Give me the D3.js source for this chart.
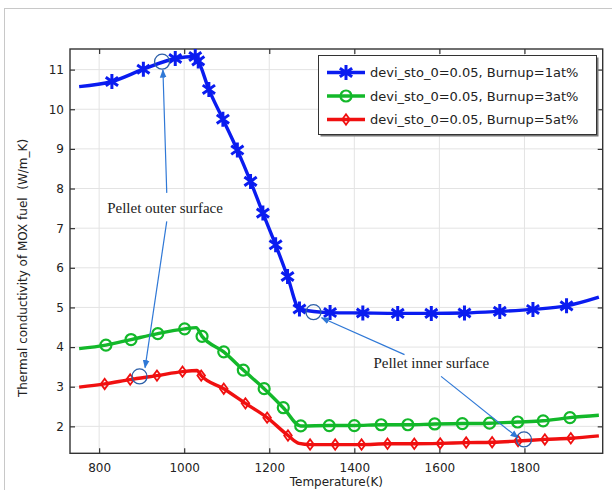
<!DOCTYPE html>
<html>
<head>
<meta charset="utf-8">
<script src="https://cdn.jsdelivr.net/npm/d3@7"></script>
<style>
  body { margin: 0; background: #fff; }
  .tick text { font-family: "DejaVu Sans", sans-serif; font-size: 12px; fill: #222; }
  .annot { font-family: "Liberation Serif", "Times New Roman", serif; font-size: 15px; fill: #222; }
</style>
</head>
<body>
<div id="chart"></div>
<script>
// Data: [temperature K, conductivity W/m_K, marker?]
const burnup1 = [
  [753, 10.57, 0], [830, 10.70, 1], [904, 11.01, 1], [979, 11.28, 1], [1026, 11.33, 1],
  [1033, 11.22, 1], [1058, 10.50, 1], [1091, 9.75, 1], [1125, 8.97, 1], [1156, 8.18, 1],
  [1185, 7.38, 1], [1215, 6.58, 1], [1243, 5.78, 1], [1271, 4.96, 1], [1343, 4.87, 1],
  [1420, 4.86, 1], [1502, 4.85, 1], [1581, 4.85, 1], [1659, 4.86, 1], [1742, 4.90, 1],
  [1820, 4.95, 1], [1899, 5.04, 1], [1975, 5.26, 0]
];
const burnup3 = [
  [753, 3.96, 0], [816, 4.05, 1], [875, 4.19, 1], [938, 4.34, 1], [1001, 4.46, 1],
  [1028, 4.49, 0], [1042, 4.27, 1], [1093, 3.88, 1], [1139, 3.42, 1], [1188, 2.95, 1],
  [1233, 2.47, 1], [1274, 2.01, 1], [1341, 2.02, 1], [1400, 2.02, 1], [1463, 2.04, 1],
  [1526, 2.04, 1], [1589, 2.06, 1], [1654, 2.07, 1], [1718, 2.08, 1], [1784, 2.11, 1],
  [1844, 2.14, 1], [1907, 2.22, 1], [1975, 2.28, 0]
];
const burnup5 = [
  [753, 2.99, 0], [813, 3.07, 1], [873, 3.18, 1], [936, 3.28, 1], [996, 3.38, 1],
  [1030, 3.41, 0], [1040, 3.28, 1], [1093, 2.95, 1], [1144, 2.58, 1], [1195, 2.22, 1],
  [1244, 1.77, 1], [1270, 1.57, 0], [1296, 1.54, 1], [1355, 1.54, 1], [1417, 1.54, 1],
  [1478, 1.56, 1], [1541, 1.56, 1], [1602, 1.57, 1], [1663, 1.59, 1], [1724, 1.60, 1],
  [1785, 1.63, 1], [1848, 1.67, 1], [1909, 1.70, 1], [1975, 1.76, 0]
];
const seriesNames = [
  "devi_sto_0=0.05, Burnup=1at%",
  "devi_sto_0=0.05, Burnup=3at%",
  "devi_sto_0=0.05, Burnup=5at%"
];
const xTicks = [800, 1000, 1200, 1400, 1600, 1800];
const yTicks = [2, 3, 4, 5, 6, 7, 8, 9, 10, 11];

// annotation circles and arrows, in data coordinates
const annotCircles = [[948, 11.2], [895, 3.26], [1304, 4.88], [1799, 1.67]];
const annotArrows = [
  [[959, 7.89], [950, 10.99]],
  [[959, 7.17], [908, 3.48]],
  [[1518, 3.81], [1323, 4.74]],
  [[1604, 3.26], [1785, 1.71]]
];
const annotTexts = [
  ["Pellet outer surface", 955, 7.51],
  ["Pellet inner surface", 1581, 3.61]
];

const W = 612, H = 490;
const plot = {left: 70, right: 602.7, top: 49, bottom: 453.3};

const svg = d3.select("#chart")
  .append("svg")
  .attr("width", W)
  .attr("height", H);

// outer frame
svg.append("rect")
  .attr("x", 4.5).attr("y", 8.5)
  .attr("width", W + 10).attr("height", H + 10)
  .attr("fill", "none")
  .attr("stroke", "#c8c8c8")
  .attr("stroke-width", 1);

const x = d3.scaleLinear().domain([731.5, 1984]).range([plot.left, plot.right]);
const y = d3.scaleLinear().domain([1.32, 11.52]).range([plot.bottom, plot.top]);

// grid
svg.append("g").selectAll("line")
  .data(xTicks).enter().append("line")
  .attr("x1", d => x(d)).attr("x2", d => x(d))
  .attr("y1", plot.top).attr("y2", plot.bottom)
  .attr("stroke", "#e3e3e3").attr("stroke-width", 1);
svg.append("g").selectAll("line")
  .data(yTicks).enter().append("line")
  .attr("x1", plot.left).attr("x2", plot.right)
  .attr("y1", d => y(d)).attr("y2", d => y(d))
  .attr("stroke", "#e3e3e3").attr("stroke-width", 1);

// axes (ticks point inward)
const axisStyle = g => {
  g.select(".domain").remove();
  g.selectAll(".tick line").attr("stroke", "#333").attr("stroke-width", 1.2);
};
svg.append("g")
  .attr("transform", `translate(0,${plot.bottom})`)
  .call(d3.axisBottom(x).tickValues(xTicks).tickSize(-5).tickPadding(10).tickFormat(d3.format("d")))
  .call(axisStyle);
svg.append("g")
  .attr("transform", `translate(0,${plot.top})`)
  .call(d3.axisTop(x).tickValues(xTicks).tickSize(-5).tickFormat(""))
  .call(axisStyle);
svg.append("g")
  .attr("transform", `translate(${plot.left},0)`)
  .call(d3.axisLeft(y).tickValues(yTicks).tickSize(-5).tickPadding(6))
  .call(axisStyle);
svg.append("g")
  .attr("transform", `translate(${plot.right},0)`)
  .call(d3.axisRight(y).tickValues(yTicks).tickSize(-5).tickFormat(""))
  .call(axisStyle);

svg.append("rect")
  .attr("x", plot.left).attr("y", plot.top)
  .attr("width", plot.right - plot.left).attr("height", plot.bottom - plot.top)
  .attr("fill", "none").attr("stroke", "#333").attr("stroke-width", 1.4);

// axis labels
svg.append("text")
  .attr("x", (plot.left + plot.right) / 2).attr("y", 486)
  .attr("text-anchor", "middle")
  .style("font-family", "DejaVu Sans, sans-serif").style("font-size", "12px").attr("fill", "#222")
  .text("Temperature(K)");
svg.append("text")
  .attr("transform", "rotate(-90)")
  .attr("x", -268).attr("y", 27)
  .attr("text-anchor", "middle")
  .style("font-family", "DejaVu Sans, sans-serif").style("font-size", "12px").attr("fill", "#222")
  .style("white-space", "pre")
  .text("Thermal conductivity of MOX fuel  (W/m_K)");

// markers
const asterisk = r => {
  const a = Math.PI * 35 / 180;
  const dx = r * Math.cos(a), dy = r * Math.sin(a);
  return `M0,${-r}L0,${r}M${-dx},${-dy}L${dx},${dy}M${-dx},${dy}L${dx},${-dy}`;
};
const diamond = (w, h) => `M0,${-h}L${w},0L0,${h}L${-w},0Z`;

const series = [
  {data: burnup1, color: "#0a1cf0", marker: "asterisk"},
  {data: burnup3, color: "#13b82a", marker: "circle"},
  {data: burnup5, color: "#f01010", marker: "diamond"}
];

const line = d3.line()
  .x(d => x(d[0]))
  .y(d => y(d[1]))
  .curve(d3.curveMonotoneX);

function drawMarker(g, kind, color) {
  if (kind === "asterisk") {
    g.append("path").attr("d", asterisk(7.5))
      .attr("stroke", color).attr("stroke-width", 3).attr("fill", "none");
  } else if (kind === "circle") {
    g.append("circle").attr("r", 5.5)
      .attr("stroke", color).attr("stroke-width", 2.2).attr("fill", "none");
  } else {
    g.append("path").attr("d", diamond(3.8, 5.2))
      .attr("stroke", color).attr("stroke-width", 1.8).attr("fill", "none");
  }
}

series.forEach(s => {
  svg.append("path")
    .datum(s.data)
    .attr("d", line)
    .attr("fill", "none")
    .attr("stroke", s.color)
    .attr("stroke-width", 3.4)
    .attr("stroke-linejoin", "round");
  s.data.filter(d => d[2]).forEach(d => {
    const g = svg.append("g").attr("transform", `translate(${x(d[0])},${y(d[1])})`);
    drawMarker(g, s.marker, s.color);
  });
});

// annotations
const defs = svg.append("defs");
defs.append("marker")
  .attr("id", "arrowhead")
  .attr("viewBox", "0 0 10 10")
  .attr("refX", 9).attr("refY", 5)
  .attr("markerWidth", 7).attr("markerHeight", 7)
  .attr("orient", "auto")
  .append("path")
  .attr("d", "M0,1L10,5L0,9Z")
  .attr("fill", "#2f78d6");

annotArrows.forEach(a => {
  svg.append("line")
    .attr("x1", x(a[0][0])).attr("y1", y(a[0][1]))
    .attr("x2", x(a[1][0])).attr("y2", y(a[1][1]))
    .attr("stroke", "#2f78d6").attr("stroke-width", 1.2)
    .attr("marker-end", "url(#arrowhead)");
});
annotCircles.forEach(c => {
  svg.append("circle")
    .attr("cx", x(c[0])).attr("cy", y(c[1]))
    .attr("r", 7.5)
    .attr("fill", "none")
    .attr("stroke", "#2c5fa8").attr("stroke-width", 1.3);
});
annotTexts.forEach(t => {
  svg.append("text")
    .attr("class", "annot")
    .attr("x", x(t[1])).attr("y", y(t[2]))
    .attr("dy", "0.35em")
    .attr("text-anchor", "middle")
    .text(t[0]);
});

// legend
const lg = {x: 318.5, y: 55.5, w: 278, h: 79};
svg.append("rect")
  .attr("x", lg.x + 2).attr("y", lg.y + 2)
  .attr("width", lg.w).attr("height", lg.h)
  .attr("fill", "#777");
svg.append("rect")
  .attr("x", lg.x).attr("y", lg.y)
  .attr("width", lg.w).attr("height", lg.h)
  .attr("fill", "#fff").attr("stroke", "#333").attr("stroke-width", 1);

series.forEach((s, i) => {
  const ry = 72.5 + i * 23.5;
  svg.append("line")
    .attr("x1", 327).attr("x2", 365)
    .attr("y1", ry).attr("y2", ry)
    .attr("stroke", s.color).attr("stroke-width", 3.4);
  const g = svg.append("g").attr("transform", `translate(346,${ry})`);
  drawMarker(g, s.marker, s.color);
  svg.append("text")
    .attr("x", 370).attr("y", ry)
    .attr("dy", "0.35em")
    .style("font-family", "DejaVu Sans, sans-serif").style("font-size", "13px").attr("fill", "#222")
    .text(seriesNames[i]);
});
</script>
</body>
</html>
